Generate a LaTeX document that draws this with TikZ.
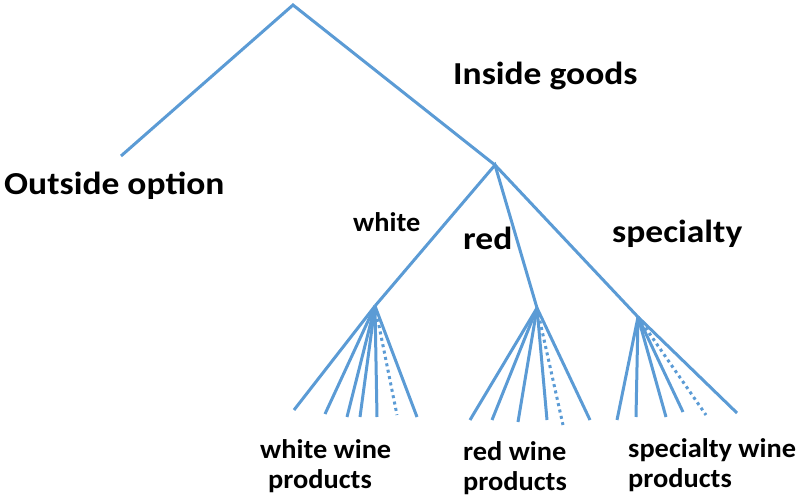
\documentclass[tikz,border=0pt]{standalone}
\usepackage{fontspec}
\setmainfont{Carlito}
\newfontfamily\bigfont{Carlito}[FakeStretch=1.11]
\newfontfamily\smallfont{Carlito}[FakeStretch=1.05]
\definecolor{branch}{RGB}{91,155,213}
\begin{document}
\begin{tikzpicture}[x=1pt,y=-1pt,
  edge/.style={draw=branch,line width=3pt},
  dotedge/.style={draw=branch,line width=3pt,dash pattern=on 3pt off 3.5pt},
  biglabel/.style={font=\bigfont\bfseries\fontsize{32}{36}\selectfont,inner sep=0pt,anchor=base west},
  smalllabel/.style={font=\smallfont\bfseries\fontsize{27}{31}\selectfont,inner sep=0pt,anchor=base west}]
\useasboundingbox (0,0) rectangle (801,497);
% junctions of the nesting tree
\coordinate (root) at (293,5);
\coordinate (outside) at (121,156);
\coordinate (inside) at (495,165);
\coordinate (w) at (375,306);
\coordinate (r) at (537,308);
\coordinate (s) at (638,317);
\draw[edge] (outside) -- (root) -- (inside);
\draw[edge] (w) -- (inside) -- (r);
\draw[edge] (inside) -- (s);
% white wine products
\foreach \i/\p in {1/{294,410},2/{325,414},3/{347,417},4/{360,417},5/{377,417},7/{417,417}}
  \coordinate (w\i) at (\p);
\coordinate (w6) at (397,415);
\foreach \i in {1,2,3,4,5,7} \draw[edge] (w) -- (w\i);
\draw[dotedge] (w) -- (w6);
% red wine products
\foreach \i/\p in {1/{470,420},2/{492,420},3/{518,422},4/{547,420},6/{590,420}}
  \coordinate (r\i) at (\p);
\coordinate (r5) at (563,425);
\foreach \i in {1,2,3,4,6} \draw[edge] (r) -- (r\i);
\draw[dotedge] (r) -- (r5);
% specialty wine products
\foreach \i/\p in {1/{617,420},2/{636,417},3/{666,417},4/{683,412},6/{737,413}}
  \coordinate (s\i) at (\p);
\coordinate (s5) at (706,415);
\foreach \i in {1,2,3,4,6} \draw[edge] (s) -- (s\i);
\draw[dotedge] (s) -- (s5);
% labels
\node[biglabel] (lblinside) at (453,85) {Inside goods};
\node[biglabel] (lbloutside) at (4,195) {Outside option};
\node[smalllabel] (lblwhite) at (353,232) {white};
\node[biglabel] (lblred) at (463,250) {red};
\node[biglabel] (lblspec) at (612,243) {specialty};
\node[smalllabel] (lblwp1) at (260,458) {white wine};
\node[smalllabel] (lblwp2) at (268,488) {products};
\node[smalllabel] (lblrp1) at (463,460) {red wine};
\node[smalllabel] (lblrp2) at (463,490) {products};
\node[smalllabel] (lblsp1) at (628,457) {specialty wine};
\node[smalllabel] (lblsp2) at (628,487) {products};
\end{tikzpicture}
\end{document}
